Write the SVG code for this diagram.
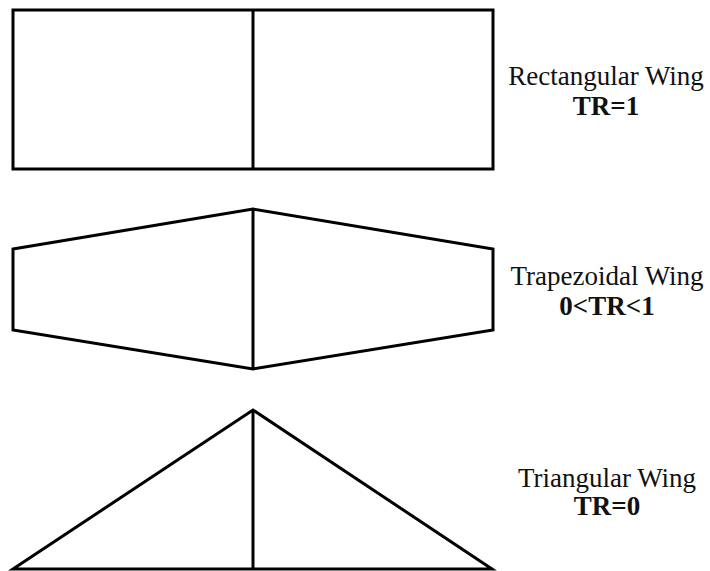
<svg xmlns="http://www.w3.org/2000/svg" width="710" height="571" viewBox="0 0 710 571">
<style>
.s{fill:none;stroke:#000;stroke-width:3;stroke-linejoin:miter}
.t{font-family:"Liberation Serif","Times New Roman",serif;font-size:27px;fill:#111;text-anchor:middle}
.b{font-weight:bold}
</style>
<rect width="710" height="571" fill="#fff"/>
<g id="rectangular">
<rect class="s" x="13" y="10" width="480" height="159"/>
<line class="s" x1="253" y1="10" x2="253" y2="169"/>
<text class="t" x="606" y="85">Rectangular Wing</text>
<text class="t b" x="606" y="115">TR=1</text>
</g>
<g id="trapezoidal">
<polygon class="s" points="13,249 253,209 493,249 493,330 253,369 13,330"/>
<line class="s" x1="253" y1="209" x2="253" y2="369"/>
<text class="t" x="607" y="285">Trapezoidal Wing</text>
<text class="t b" x="607" y="315">0&lt;TR&lt;1</text>
</g>
<g id="triangular">
<polygon class="s" points="13,569 253,410 492,569"/>
<line class="s" x1="253" y1="410" x2="253" y2="569"/>
<text class="t" x="607" y="487">Triangular Wing</text>
<text class="t b" x="607" y="515">TR=0</text>
</g>
</svg>
